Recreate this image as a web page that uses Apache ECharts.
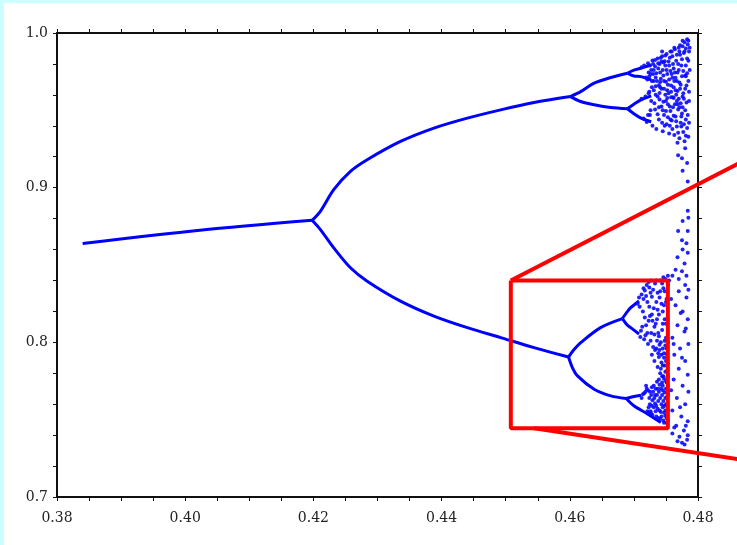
<!DOCTYPE html>
<html>
<head>
<meta charset="utf-8">
<script src="https://cdn.jsdelivr.net/npm/echarts@6/dist/echarts.min.js"></script>
<style>
  html, body { margin: 0; padding: 0; background: #ccffff; }
  #chart {
    position: absolute;
    left: 4px;
    top: 3px;
    width: 733px;
    height: 542px;
    background: #fff;
  }
</style>
</head>
<body>
<div id="chart"></div>
<script>
// axis ranges / ticks
const xMin = 0.38, xMax = 0.48, xStep = 0.02;
const yMin = 0.7, yMax = 1.0, yStep = 0.1;

// period-1 and period-2 branches
const period1 = [[0.3840, 0.8639], [0.4023, 0.8725], [0.4198, 0.8789]];
const upper2 = [[0.4198, 0.8789], [0.42109, 0.88471], [0.42317, 0.89871], [0.42578, 0.91052], [0.42839, 0.91806],
  [0.43359, 0.92987], [0.43880, 0.93852], [0.44402, 0.94497], [0.44922, 0.95032], [0.45442, 0.95503], [0.4601, 0.9589]];
const lower2 = [[0.4198, 0.8789], [0.42109, 0.87290], [0.42317, 0.86110], [0.42578, 0.84819], [0.42839, 0.83955],
  [0.43359, 0.82665], [0.43880, 0.81697], [0.44402, 0.80948], [0.44922, 0.80303], [0.45442, 0.79658], [0.4598, 0.7905]];

// period-4
const upperUp4 = [[0.4601, 0.9589], [0.4617, 0.9621], [0.4638, 0.9676], [0.4664, 0.9712], [0.4690, 0.9740]];
const upperLow4 = [[0.4601, 0.9589], [0.4617, 0.9557], [0.4638, 0.9536], [0.4664, 0.9518], [0.4690, 0.9510]];
const lowerUp4 = [[0.4598, 0.7905], [0.4607, 0.7955], [0.4617, 0.7998], [0.4648, 0.8095], [0.4682, 0.8153]];
const lowerLow4 = [[0.4598, 0.7905], [0.4604, 0.7837], [0.4612, 0.7783], [0.4638, 0.7697], [0.4664, 0.7654], [0.4688, 0.7637]];

// period-8
const p8a = [[0.4690, 0.9740], [0.4700, 0.9760], [0.4711, 0.9772], [0.4727, 0.9794]];
const p8b = [[0.4690, 0.9740], [0.4700, 0.9722], [0.4711, 0.9718], [0.4727, 0.9697]];
const p8c = [[0.4690, 0.9510], [0.4700, 0.9540], [0.4711, 0.9568], [0.4727, 0.9594]];
const p8d = [[0.4690, 0.9510], [0.4700, 0.9478], [0.4711, 0.9450], [0.4727, 0.9426]];
const p8e = [[0.4682, 0.8153], [0.4690, 0.8200], [0.4695, 0.8224], [0.4708, 0.8267]];
const p8f = [[0.4682, 0.8153], [0.4690, 0.8110], [0.4695, 0.8095], [0.4708, 0.8054]];
const p8g = [[0.4688, 0.7637], [0.4700, 0.7650], [0.4711, 0.7658]];
const p8h = [[0.4688, 0.7637], [0.4700, 0.7590], [0.4720, 0.7540], [0.4742, 0.7482]];

// chaotic region dots
const cloudTop = [
  [0.4712,0.9778],[0.4716,0.9790],[0.4719,0.9712],[0.4722,0.9805],[0.4724,0.9718],[0.4727,0.9760],[0.4729,0.9822],
  [0.4731,0.9690],[0.4733,0.9785],[0.4735,0.9740],[0.4737,0.9835],[0.4739,0.9662],[0.4740,0.9800],[0.4742,0.9705],
  [0.4744,0.9850],[0.4745,0.9760],[0.4747,0.9640],[0.4748,0.9818],[0.4750,0.9685],[0.4751,0.9865],[0.4752,0.9735],
  [0.4754,0.9610],[0.4755,0.9790],[0.4756,0.9840],[0.4758,0.9660],[0.4759,0.9880],[0.4760,0.9710],[0.4761,0.9585],
  [0.4762,0.9770],[0.4764,0.9895],[0.4765,0.9630],[0.4766,0.9820],[0.4767,0.9560],[0.4768,0.9745],[0.4770,0.9905],
  [0.4771,0.9680],[0.4772,0.9860],[0.4773,0.9545],[0.4774,0.9790],[0.4776,0.9915],[0.4777,0.9610],[0.4778,0.9870],
  [0.4780,0.9725],[0.4781,0.9900],[0.4783,0.9835],[0.4784,0.9925],[0.4786,0.9880],
  [0.4721,0.9700],[0.4726,0.9735],[0.4730,0.9800],[0.4734,0.9712],[0.4738,0.9770],[0.4741,0.9683],[0.4743,0.9815],
  [0.4746,0.9725],[0.4749,0.9790],[0.4753,0.9665],[0.4757,0.9755],[0.4760,0.9850],[0.4763,0.9690],[0.4766,0.9600],
  [0.4769,0.9800],[0.4772,0.9640],[0.4775,0.9720],[0.4778,0.9575],[0.4781,0.9790],[0.4785,0.9690],[0.4779,0.9940],
  [0.4785,0.9950],[0.4782,0.9660],[0.4787,0.9760],[0.4776,0.9520],[0.4770,0.9575],[0.4764,0.9745],[0.4758,0.9620],
  [0.4752,0.9580],[0.4746,0.9555],[0.4740,0.9612],[0.4734,0.9655],[0.4728,0.9690],
  [0.4712,0.9575],[0.4715,0.9448],[0.4718,0.9590],[0.4720,0.9425],[0.4723,0.9610],[0.4725,0.9470],[0.4727,0.9560],
  [0.4729,0.9400],[0.4731,0.9630],[0.4733,0.9505],[0.4735,0.9380],[0.4737,0.9590],[0.4739,0.9440],[0.4741,0.9650],
  [0.4743,0.9525],[0.4745,0.9365],[0.4747,0.9470],[0.4749,0.9600],[0.4751,0.9410],[0.4753,0.9540],[0.4755,0.9350],
  [0.4757,0.9495],[0.4759,0.9435],[0.4761,0.9520],[0.4763,0.9340],[0.4765,0.9460],[0.4767,0.9395],[0.4769,0.9505],
  [0.4771,0.9320],[0.4773,0.9420],[0.4775,0.9480],[0.4777,0.9360],[0.4779,0.9300],[0.4781,0.9440],[0.4783,0.9385],
  [0.4785,0.9330],[0.4744,0.9420],[0.4750,0.9495],[0.4756,0.9400],[0.4762,0.9465],[0.4768,0.9540],[0.4774,0.9395],
  [0.4780,0.9500],[0.4786,0.9420],[0.4786,0.9560],
  [0.4723,0.9745],[0.4725,0.9790],[0.4728,0.9650],[0.4730,0.9735],[0.4732,0.9545],[0.4733,0.9825],[0.4736,0.9690],
  [0.4737,0.9475],[0.4738,0.9805],[0.4740,0.9570],[0.4741,0.9745],[0.4742,0.9840],[0.4743,0.9640],[0.4745,0.9500],
  [0.4746,0.9810],[0.4747,0.9690],[0.4748,0.9400],[0.4749,0.9855],[0.4750,0.9560],[0.4751,0.9760],[0.4752,0.9630],
  [0.4753,0.9455],[0.4754,0.9815],[0.4755,0.9700],[0.4756,0.9525],[0.4757,0.9880],[0.4758,0.9585],[0.4759,0.9735],
  [0.4760,0.9380],[0.4761,0.9800],[0.4762,0.9650],[0.4763,0.9905],[0.4764,0.9540],[0.4765,0.9710],[0.4766,0.9430],
  [0.4767,0.9860],[0.4768,0.9625],[0.4769,0.9355],[0.4770,0.9760],[0.4771,0.9520],[0.4772,0.9920],[0.4773,0.9665],
  [0.4774,0.9460],[0.4775,0.9830],[0.4776,0.9590],[0.4777,0.9755],[0.4778,0.9410],[0.4779,0.9880],[0.4780,0.9640],
  [0.4781,0.9335],[0.4782,0.9550],[0.4783,0.9740],[0.4784,0.9470],[0.4785,0.9820],[0.4786,0.9620],[0.4787,0.9905],
  [0.4744,0.9880],[0.4739,0.9520],[0.4734,0.9600],[0.4731,0.9760],[0.4726,0.9500],[0.4724,0.9620],[0.4722,0.9470],
  [0.4757,0.9440],[0.4762,0.9580],[0.4767,0.9690],[0.4771,0.9880],[0.4776,0.9950],[0.4781,0.9720],[0.4783,0.9960]
];
const cloudMid = [
  [0.4768,0.9290],[0.4780,0.9255],[0.4769,0.9210],[0.4775,0.9190],[0.4783,0.9160],[0.4776,0.9110],[0.4784,0.9040],
  [0.4784,0.8850],[0.4785,0.8805],[0.4776,0.8785],[0.4769,0.8720],[0.4784,0.8720],[0.4775,0.8660],[0.4782,0.8640],
  [0.4776,0.8600],[0.4784,0.8580],[0.4768,0.8550],[0.4779,0.8510],[0.4765,0.8470],[0.4775,0.8460],[0.4760,0.8430],
  [0.4782,0.8430],[0.4770,0.8410],[0.4755,0.8400],[0.4780,0.8370],[0.4785,0.8340]
];
const cloudLow = [
  [0.4708,0.8290],[0.4710,0.8035],[0.4712,0.8310],[0.4714,0.8200],[0.4716,0.8020],[0.4717,0.8335],[0.4719,0.8110],
  [0.4721,0.8260],[0.4722,0.7990],[0.4724,0.8355],[0.4725,0.8170],[0.4727,0.8060],[0.4728,0.8295],[0.4730,0.7970],
  [0.4731,0.8220],[0.4733,0.8380],[0.4734,0.8120],[0.4736,0.8010],[0.4737,0.8320],[0.4739,0.8180],[0.4740,0.7950],
  [0.4741,0.8400],[0.4743,0.8250],[0.4744,0.8080],[0.4746,0.8350],[0.4747,0.7930],[0.4748,0.8150],[0.4749,0.8410],
  [0.4750,0.8030],[0.4751,0.8280],[0.4752,0.7905],[0.4727,0.8400],[0.4720,0.8370],[0.4742,0.8000],[0.4735,0.8260],
  [0.4745,0.8200],[0.4738,0.8060],[0.4729,0.8140],[0.4748,0.8330],
  [0.4706,0.8250],[0.4711,0.8075],[0.4715,0.8280],[0.4718,0.8045],[0.4723,0.8140],[0.4726,0.8320],[0.4732,0.8050],
  [0.4736,0.8150],[0.4740,0.8290],[0.4744,0.8380],[0.4747,0.8240],[0.4750,0.8120],[0.4753,0.8370],[0.4753,0.8000],
  [0.4709,0.8230],[0.4713,0.8100],[0.4715,0.8350],[0.4717,0.8160],[0.4719,0.8300],[0.4721,0.8060],[0.4723,0.8390],
  [0.4724,0.8230],[0.4726,0.8010],[0.4728,0.8180],[0.4730,0.8340],[0.4732,0.8100],[0.4733,0.7950],[0.4735,0.8400],
  [0.4737,0.8210],[0.4739,0.8040],[0.4741,0.8330],[0.4743,0.7920],[0.4745,0.8120],[0.4746,0.8420],[0.4748,0.8010],
  [0.4750,0.8260],[0.4752,0.8150],[0.4753,0.8430],[0.4751,0.7960],
  [0.4728,0.7920],[0.4732,0.7880],[0.4735,0.7960],[0.4737,0.7840],[0.4739,0.7905],[0.4741,0.7800],[0.4743,0.7870],
  [0.4745,0.7960],[0.4746,0.7780],[0.4748,0.7850],[0.4750,0.7750],[0.4751,0.7925],[0.4752,0.7820],[0.4744,0.7740],
  [0.4740,0.7985],[0.4749,0.7980],[0.4738,0.7930],[0.4745,0.7850],[0.4750,0.7880],[0.4753,0.7780],
  [0.4742,0.7830],[0.4747,0.7900],[0.4749,0.7810],[0.4753,0.7860],[0.4744,0.7780],[0.4739,0.7760],
  [0.4712,0.7640],[0.4714,0.7665],[0.4716,0.7670],[0.4718,0.7680],[0.4720,0.7700],[0.4722,0.7690],[0.4723,0.7545],
  [0.4725,0.7600],[0.4727,0.7660],[0.4728,0.7710],[0.4729,0.7530],[0.4731,0.7580],[0.4732,0.7640],[0.4734,0.7700],
  [0.4735,0.7520],[0.4736,0.7745],[0.4737,0.7570],[0.4738,0.7620],[0.4739,0.7680],[0.4741,0.7505],[0.4742,0.7550],
  [0.4743,0.7600],[0.4744,0.7660],[0.4745,0.7720],[0.4746,0.7495],[0.4747,0.7545],[0.4748,0.7590],[0.4749,0.7640],
  [0.4750,0.7700],[0.4751,0.7480],[0.4752,0.7530],[0.4752,0.7600],[0.4753,0.7660],[0.4733,0.7605],[0.4726,0.7555],
  [0.4740,0.7725],[0.4747,0.7765],[0.4721,0.7555],[0.4742,0.7700],[0.4736,0.7660],[0.4730,0.7680],[0.4724,0.7640],
  [0.4719,0.7720],[0.4745,0.7580],[0.4749,0.7525],[0.4753,0.7500],[0.4740,0.7560],[0.4734,0.7555],[0.4728,0.7590],
  [0.4748,0.7675],[0.4751,0.7740],[0.4753,0.7560],
  [0.4746,0.7620],[0.4743,0.7520],[0.4738,0.7510],[0.4733,0.7660],[0.4731,0.7720],[0.4729,0.7625],[0.4727,0.7540],
  [0.4725,0.7680],[0.4737,0.7700],[0.4741,0.7640],[0.4745,0.7690],[0.4750,0.7600],[0.4752,0.7650],[0.4749,0.7560],
  [0.4753,0.7720],[0.4747,0.7480],[0.4751,0.7510],[0.4735,0.7590],[0.4723,0.7580],
  [0.4770,0.8330],[0.4782,0.8290],[0.4765,0.8240],[0.4776,0.8200],[0.4784,0.8150],[0.4768,0.8110],[0.4779,0.8070],
  [0.4760,0.8030],[0.4785,0.7990],[0.4772,0.7960],[0.4763,0.7920],[0.4780,0.7880],[0.4770,0.7830],[0.4784,0.7790],
  [0.4762,0.7760],[0.4776,0.7720],[0.4785,0.7680],[0.4767,0.7640],[0.4780,0.7600],[0.4760,0.7560],[0.4774,0.7520],
  [0.4784,0.7490],[0.4766,0.7460],[0.4778,0.7430],[0.4760,0.7410],[0.4771,0.7390],[0.4783,0.7370],[0.4775,0.7350],
  [0.4784,0.7400],[0.4763,0.7450],
  [0.4758,0.8280],[0.4773,0.8190],[0.4781,0.8090],[0.4762,0.7990],[0.4775,0.7900],[0.4758,0.7690],[0.4772,0.7580],
  [0.4781,0.7460],[0.4768,0.7360],[0.4779,0.7340]
];

// red zoom box and the two guide lines running off to the right
const zoomBox = [[0.4508, 0.8400], [0.4753, 0.8400], [0.4753, 0.7445], [0.4508, 0.7445], [0.4508, 0.8400]];
const guideTop = [[0.4508, 0.8400], [0.4900, 0.9234]];
const guideBottom = [[0.45444, 0.7445], [0.4900, 0.72213]];

const branches = [period1, upper2, lower2, upperUp4, upperLow4, lowerUp4, lowerLow4,
  p8a, p8b, p8c, p8d, p8e, p8f, p8g, p8h];

const chart = echarts.init(document.getElementById("chart"));

const axisLine = { show: true, onZero: false, lineStyle: { color: "#111", width: 2 } };
const tickStyle = { color: "#111", width: 1 };
const labelStyle = { fontFamily: "DejaVu Serif", fontSize: 14, color: "#222" };

let series = branches.map(b => ({
  type: "line",
  data: b,
  showSymbol: false,
  smooth: 0.3,
  lineStyle: { color: "#0000ff", width: 3 },
  z: 2
}));

series.push({
  type: "scatter",
  data: cloudTop.concat(cloudMid, cloudLow),
  symbolSize: 4,
  itemStyle: { color: "#0a0aff", opacity: 0.9 },
  z: 3
});

series.push({
  type: "line",
  data: zoomBox,
  showSymbol: false,
  lineStyle: { color: "#ff0000", width: 4 },
  z: 5
});

chart.setOption({
  animation: false,
  grid: { left: 53, right: 39, top: 30, bottom: 48, containLabel: false },
  xAxis: [
    {
      type: "value", min: xMin, max: xMax, interval: xStep, position: "bottom",
      axisLine: axisLine,
      axisTick: { show: true, length: 4, lineStyle: tickStyle },
      minorTick: { show: true, splitNumber: 4, length: 4, lineStyle: tickStyle },
      splitLine: { show: false },
      axisLabel: Object.assign({ margin: 14, formatter: v => v.toFixed(2) }, labelStyle)
    },
    {
      type: "value", min: xMin, max: xMax, interval: xStep, position: "top",
      axisLine: axisLine,
      axisTick: { show: true, length: 4, lineStyle: tickStyle },
      minorTick: { show: true, splitNumber: 4, length: 4, lineStyle: tickStyle },
      splitLine: { show: false },
      axisLabel: { show: false }
    }
  ],
  yAxis: [
    {
      type: "value", min: yMin, max: yMax, interval: yStep, position: "left",
      axisLine: axisLine,
      axisTick: { show: true, length: 4, lineStyle: tickStyle },
      minorTick: { show: true, splitNumber: 5, length: 4, lineStyle: tickStyle },
      splitLine: { show: false },
      axisLabel: Object.assign({ margin: 9, formatter: v => v.toFixed(1) }, labelStyle)
    },
    {
      type: "value", min: yMin, max: yMax, interval: yStep, position: "right",
      axisLine: axisLine,
      axisTick: { show: true, length: 4, lineStyle: tickStyle },
      minorTick: { show: true, splitNumber: 5, length: 4, lineStyle: tickStyle },
      splitLine: { show: false },
      axisLabel: { show: false }
    }
  ],
  series: series
});

// guide lines leave the plot area, so draw them as graphics placed through the axes
const toPx = p => chart.convertToPixel({ xAxisIndex: 0, yAxisIndex: 0 }, p);
chart.setOption({
  graphic: [guideTop, guideBottom].map(g => ({
    type: "polyline",
    z: 100,
    shape: { points: g.map(toPx) },
    style: { stroke: "#ff0000", lineWidth: 4, fill: null }
  }))
});
</script>
</body>
</html>
